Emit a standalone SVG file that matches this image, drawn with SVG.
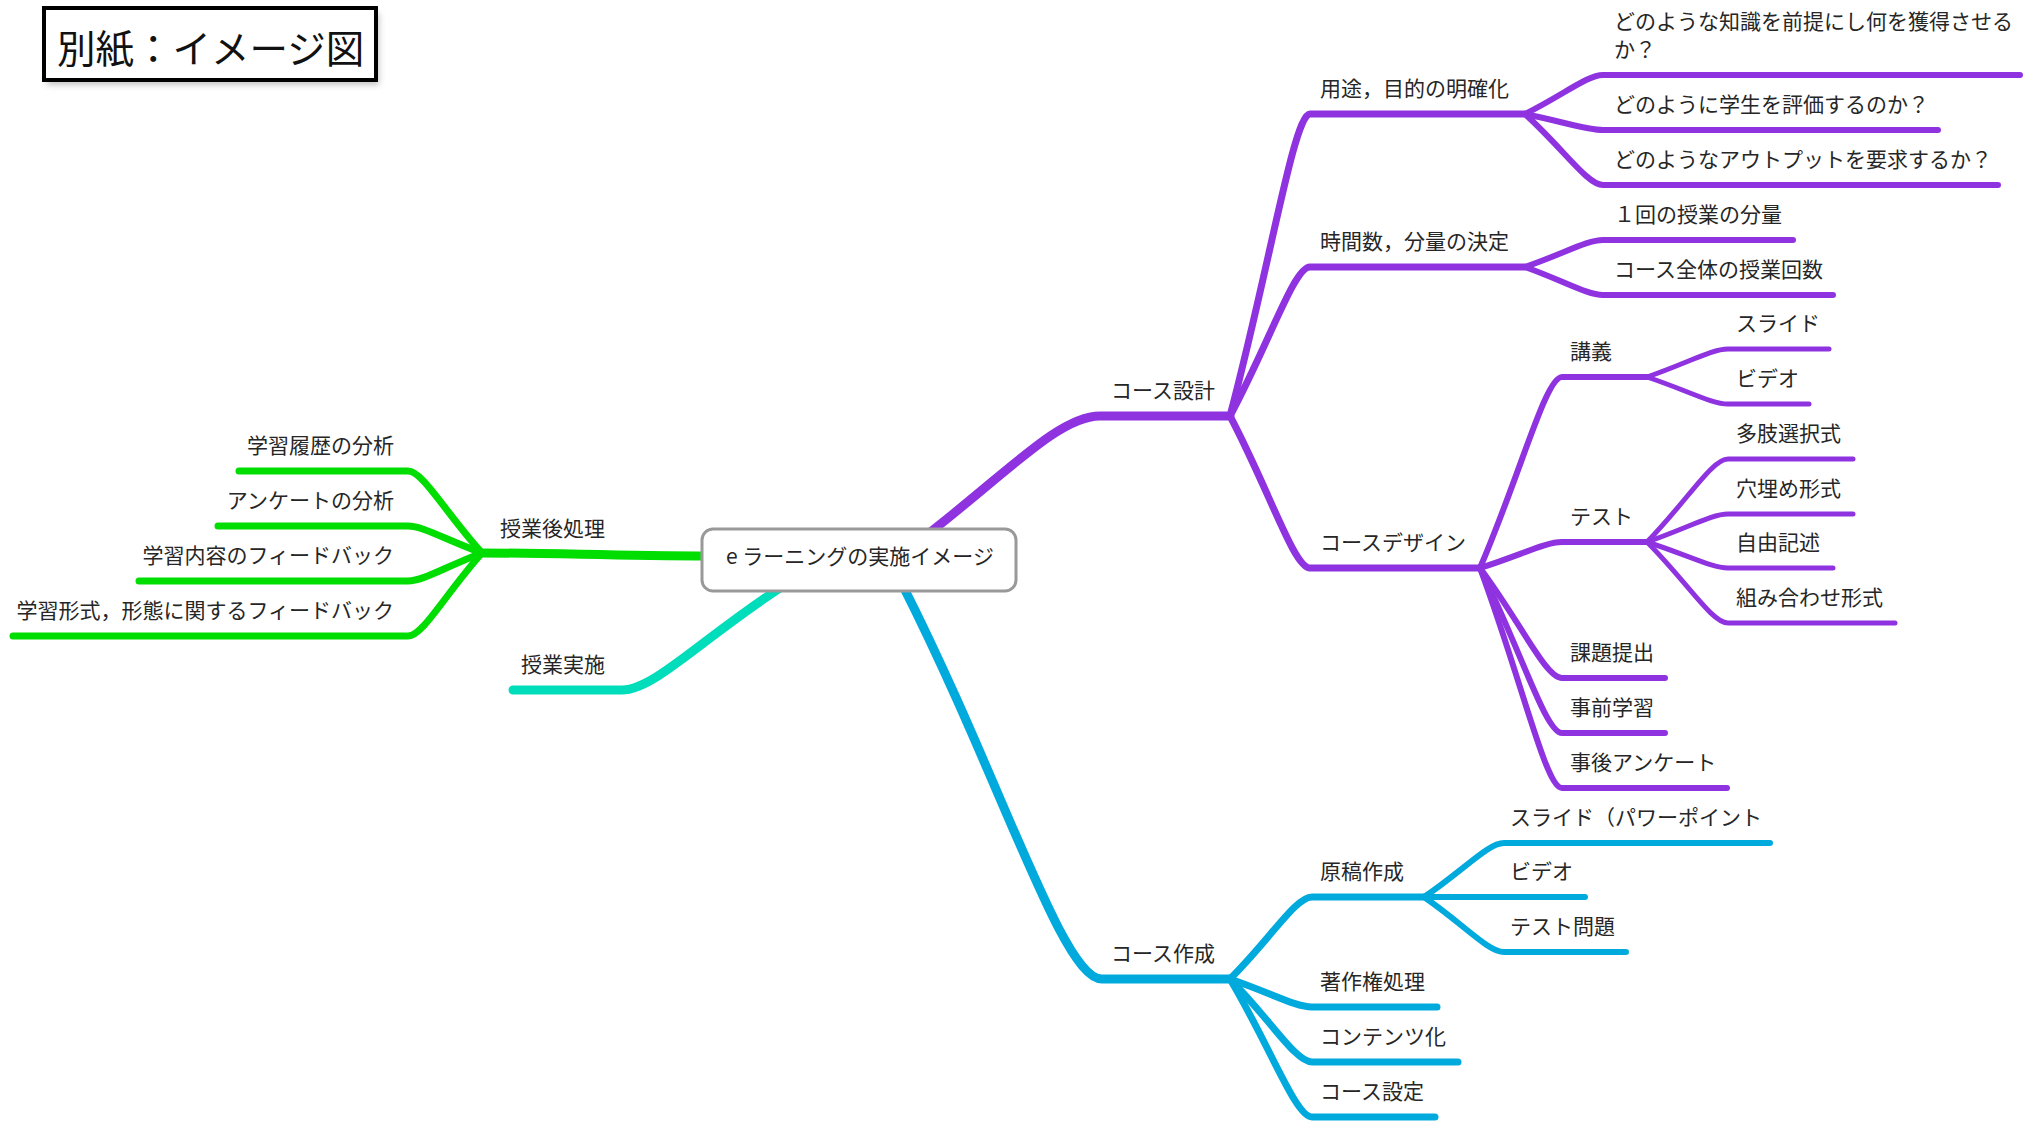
<svg xmlns="http://www.w3.org/2000/svg" width="2033" height="1122" viewBox="0 0 2033 1122">
<defs>
<style>
.t{font-family:"Noto Sans CJK JP","Noto Sans",sans-serif;font-size:21px;fill:#262626}
.e{text-anchor:end}
.c{fill:none;stroke-linecap:round;stroke-linejoin:round}
.p{stroke:#8f33e0}
.b{stroke:#00aadd}
.g{stroke:#00dd00}
.q{stroke:#00ddbb}
.w1{stroke-width:9}
.w2{stroke-width:7}
.w3{stroke-width:6}
.w4{stroke-width:5}
</style>
<filter id="sh" x="-10%" y="-20%" width="130%" height="160%">
<feGaussianBlur stdDeviation="3"/>
</filter>
</defs>
<rect width="2033" height="1122" fill="#ffffff"/>

<g id="title">
<rect x="47" y="13" width="332" height="72" fill="#888" opacity="0.5" filter="url(#sh)"/>
<rect x="44" y="8" width="332" height="72" fill="#ffffff" stroke="#000" stroke-width="4"/>
<text x="57" y="63" style="font-family:'Noto Sans CJK JP',sans-serif;font-size:38.5px;fill:#111">別紙：イメージ図</text>
</g>

<g id="connectors">
<!-- purple -->
<path class="c p w1" d="M928 534 C1010 470,1060 416,1100 416 H1230"/>
<path class="c p w2" d="M1230 416 C1270 265,1294 114,1310 114 H1525"/>
<path class="c p w2" d="M1230 416 C1270 341.5,1294 267,1310 267 H1525"/>
<path class="c p w2" d="M1230 416 C1270 492,1294 568,1310 568 H1480"/>
<path class="c p w3" d="M1525 114 C1564 94.5,1587.4 75,1603 75 H2020"/>
<path class="c p w3" d="M1525 114 C1564 122,1587.4 130,1603 130 H1938"/>
<path class="c p w3" d="M1525 114 C1564 149.5,1587.4 185,1603 185 H1998"/>
<path class="c p w3" d="M1525 267 C1564 253.5,1587.4 240,1603 240 H1793"/>
<path class="c p w3" d="M1525 267 C1564 281,1587.4 295,1603 295 H1833"/>
<path class="c p w3" d="M1480 568 C1521 472.5,1545.6 377,1562 377 H1647"/>
<path class="c p w3" d="M1480 568 C1521 555,1545.6 542,1562 542 H1647"/>
<path class="c p w3" d="M1480 568 C1521 623,1545.6 678,1562 678 H1665"/>
<path class="c p w3" d="M1480 568 C1521 650.5,1545.6 733,1562 733 H1665"/>
<path class="c p w3" d="M1480 568 C1521 678,1545.6 788,1562 788 H1727"/>
<path class="c p w4" d="M1647 377 C1687.5 363,1711.8 349,1728 349 H1829"/>
<path class="c p w4" d="M1647 377 C1687.5 390.5,1711.8 404,1728 404 H1809"/>
<path class="c p w4" d="M1647 542 C1687.5 500.5,1711.8 459,1728 459 H1853"/>
<path class="c p w4" d="M1647 542 C1687.5 528,1711.8 514,1728 514 H1853"/>
<path class="c p w4" d="M1647 542 C1687.5 555,1711.8 568,1728 568 H1833"/>
<path class="c p w4" d="M1647 542 C1687.5 582.5,1711.8 623,1728 623 H1895"/>
<!-- blue -->
<path class="c b w1" d="M903 586 C1002.5 782.5,1062.2 979,1102 979 H1230"/>
<path class="c b w2" d="M1230 979 C1271 938,1295.6 897,1312 897 H1424"/>
<path class="c b w2" d="M1230 979 C1271 993,1295.6 1007,1312 1007 H1437"/>
<path class="c b w2" d="M1230 979 C1271 1020.5,1295.6 1062,1312 1062 H1458"/>
<path class="c b w2" d="M1230 979 C1271 1048,1295.6 1117,1312 1117 H1435"/>
<path class="c b w3" d="M1424 897 C1464 870,1488 843,1504 843 H1770"/>
<path class="c b w3" d="M1424 897 H1585"/>
<path class="c b w3" d="M1424 897 C1464 924.5,1488 952,1504 952 H1626"/>
<!-- green -->
<path class="c g w1" d="M712 556 C600 555.5,560 553,482 553"/>
<path class="c g w2" d="M482 553 C445 512,422.8 471,408 471 H239"/>
<path class="c g w2" d="M482 553 C445 539.5,422.8 526,408 526 H218"/>
<path class="c g w2" d="M482 553 C445 567,422.8 581,408 581 H139"/>
<path class="c g w2" d="M482 553 C445 594.5,422.8 636,408 636 H13"/>
<!-- teal -->
<path class="c q w1" d="M783 586 C702.5 638,654.2 690,622 690 H513"/>
</g>

<g id="root">
<rect x="702" y="529" width="314" height="62" rx="11" fill="#ffffff" stroke="#999" stroke-width="3"/>
<text class="t" x="860" y="564" text-anchor="middle">e ラーニングの実施イメージ</text>
</g>

<g id="n-course-design"><text class="t" x="1111" y="398">コース設計</text></g>
<g id="n-purpose"><text class="t" x="1320" y="96">用途，目的の明確化</text></g>
<g id="n-p1"><text class="t" x="1614" y="29">どのような知識を前提にし何を獲得させる</text><text class="t" x="1614" y="57">か？</text></g>
<g id="n-p2"><text class="t" x="1614" y="112">どのように学生を評価するのか？</text></g>
<g id="n-p3"><text class="t" x="1614" y="167">どのようなアウトプットを要求するか？</text></g>
<g id="n-time"><text class="t" x="1320" y="249">時間数，分量の決定</text></g>
<g id="n-t1"><text class="t" x="1614" y="222">１回の授業の分量</text></g>
<g id="n-t2"><text class="t" x="1614" y="277">コース全体の授業回数</text></g>
<g id="n-cdesign"><text class="t" x="1320" y="550">コースデザイン</text></g>
<g id="n-lecture"><text class="t" x="1570" y="359">講義</text></g>
<g id="n-slide"><text class="t" x="1736" y="331">スライド</text></g>
<g id="n-video"><text class="t" x="1736" y="386">ビデオ</text></g>
<g id="n-test"><text class="t" x="1570" y="524">テスト</text></g>
<g id="n-mc"><text class="t" x="1736" y="441">多肢選択式</text></g>
<g id="n-fill"><text class="t" x="1736" y="496">穴埋め形式</text></g>
<g id="n-free"><text class="t" x="1736" y="550">自由記述</text></g>
<g id="n-match"><text class="t" x="1736" y="605">組み合わせ形式</text></g>
<g id="n-assign"><text class="t" x="1570" y="660">課題提出</text></g>
<g id="n-pre"><text class="t" x="1570" y="715">事前学習</text></g>
<g id="n-post"><text class="t" x="1570" y="770">事後アンケート</text></g>

<g id="n-course-make"><text class="t" x="1111" y="961">コース作成</text></g>
<g id="n-draft"><text class="t" x="1320" y="879">原稿作成</text></g>
<g id="n-d1"><text class="t" x="1510" y="825">スライド（パワーポイント</text></g>
<g id="n-d2"><text class="t" x="1510" y="879">ビデオ</text></g>
<g id="n-d3"><text class="t" x="1510" y="934">テスト問題</text></g>
<g id="n-copy"><text class="t" x="1320" y="989">著作権処理</text></g>
<g id="n-content"><text class="t" x="1320" y="1044">コンテンツ化</text></g>
<g id="n-setting"><text class="t" x="1320" y="1099">コース設定</text></g>

<g id="n-after"><text class="t e" x="605" y="536">授業後処理</text></g>
<g id="n-a1"><text class="t e" x="394" y="453">学習履歴の分析</text></g>
<g id="n-a2"><text class="t e" x="394" y="508">アンケートの分析</text></g>
<g id="n-a3"><text class="t e" x="394" y="563">学習内容のフィードバック</text></g>
<g id="n-a4"><text class="t e" x="394" y="618">学習形式，形態に関するフィードバック</text></g>

<g id="n-class"><text class="t e" x="605" y="672">授業実施</text></g>
</svg>
